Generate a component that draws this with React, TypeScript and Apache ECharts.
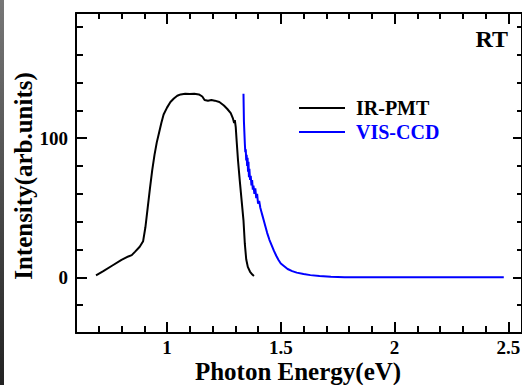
import React, { useEffect, useRef } from "react";
import * as echarts from "echarts";

// Photon energy (eV) / intensity (arb. units) pairs
const irPmtEnergy = [0.688, 0.72, 0.76, 0.8, 0.83, 0.845, 0.86, 0.88, 0.895, 0.905, 0.915, 0.925, 0.935, 0.945, 0.955, 0.965, 0.975, 0.985, 1.0, 1.015, 1.03, 1.045, 1.06, 1.08, 1.1, 1.12, 1.14, 1.155, 1.165, 1.18, 1.195, 1.21, 1.23, 1.25, 1.265, 1.28, 1.29, 1.295, 1.298, 1.302, 1.306, 1.312, 1.32, 1.328, 1.336, 1.342, 1.348, 1.355, 1.365, 1.375, 1.382];
const irPmtIntensity = [1.5, 4.5, 8.5, 12.5, 15, 16, 18.5, 22, 26, 36, 50, 64, 77, 88, 97, 104, 111, 117, 122, 126, 128.5, 130.5, 131.5, 132, 131.8, 132, 131.5, 130, 127.5, 127, 127.5, 127, 126, 123.5, 121, 118, 114, 111, 113, 108, 98, 84, 69, 55, 41, 24, 13, 7.5, 4, 2, 1];

const visCcdEnergy = [1.336, 1.337, 1.338, 1.34, 1.342, 1.344, 1.346, 1.348, 1.35, 1.352, 1.354, 1.356, 1.358, 1.36, 1.362, 1.365, 1.368, 1.371, 1.374, 1.377, 1.38, 1.384, 1.388, 1.392, 1.396, 1.4, 1.405, 1.41, 1.415, 1.42, 1.425, 1.43, 1.44, 1.45, 1.46, 1.47, 1.48, 1.49, 1.5, 1.515, 1.53, 1.55, 1.57, 1.6, 1.63, 1.67, 1.72, 1.78, 1.9, 2.1, 2.3, 2.48];
const visCcdIntensity = [132, 122, 112, 104, 96, 90, 92, 84, 88, 80, 86, 76, 83, 72, 78, 70, 73, 66, 70, 63, 66, 60, 64, 57, 60, 53, 55, 50, 47, 44, 41, 38, 32, 27, 23, 19, 15.5, 12.5, 10, 8, 6, 4.5, 3.4, 2.4, 1.6, 1, 0.4, 0.1, 0, 0, 0, 0];

const xMajor = [1, 1.5, 2, 2.5];
const xMinor = [0.7, 0.8, 0.9, 1.1, 1.2, 1.3, 1.4, 1.6, 1.7, 1.8, 1.9, 2.1, 2.2, 2.3, 2.4];
const yMajor = [0, 100];
const yMinor = [-20, 20, 40, 60, 80, 120, 140, 160, 180];

const X_MIN = 0.6;
const X_MAX = 2.56;
const Y_MIN = -40;
const Y_MAX = 190;

const X_TITLE = "Photon Energy(eV)";
const Y_TITLE = "Intensity(arb.units)";

const FONT = '"Liberation Serif", "Times New Roman", serif';

export default function App() {
  const ref = useRef<HTMLDivElement>(null);

  useEffect(() => {
    if (!ref.current) return;
    const chart = echarts.init(ref.current, null, { renderer: "svg" });

    const gridBox = { left: 76, top: 13, right: 0, bottom: 52 };
    const lineStyle = { color: "#000", width: 2 };

    const xAxisBase = (gridIndex: number, position: string) => ({
      type: "value",
      gridIndex,
      position,
      min: X_MIN,
      max: X_MAX,
      splitLine: { show: false },
    });
    const yAxisBase = (gridIndex: number, position: string) => ({
      type: "value",
      gridIndex,
      position,
      min: Y_MIN,
      max: Y_MAX,
      splitLine: { show: false },
    });

    const toPairs = (xs: number[], ys: number[]) => xs.map((x, i) => [x, ys[i]]);

    chart.setOption({
      animation: false,
      backgroundColor: "#fff",
      grid: [gridBox, gridBox, gridBox, gridBox].map((g) => ({
        ...g,
        containLabel: false,
        outerBoundsMode: "none",
      })),
      xAxis: [
        {
          ...xAxisBase(0, "bottom"),
          axisLine: { show: true, onZero: false, lineStyle },
          axisTick: { show: true, inside: true, length: 11, lineStyle, customValues: xMajor },
          axisLabel: {
            show: true,
            customValues: xMajor,
            margin: 5,
            color: "#000",
            fontFamily: FONT,
            fontWeight: "bold",
            fontSize: 19,
          },
        },
        {
          ...xAxisBase(1, "bottom"),
          axisLine: { show: false, onZero: false },
          axisTick: { show: true, inside: true, length: 7, lineStyle, customValues: xMinor },
          axisLabel: { show: false },
        },
        {
          ...xAxisBase(2, "top"),
          axisLine: { show: true, onZero: false, lineStyle },
          axisTick: { show: true, inside: true, length: 11, lineStyle, customValues: xMajor },
          axisLabel: { show: false },
        },
        {
          ...xAxisBase(3, "top"),
          axisLine: { show: false, onZero: false },
          axisTick: { show: true, inside: true, length: 6, lineStyle, customValues: xMinor },
          axisLabel: { show: false },
        },
      ],
      yAxis: [
        {
          ...yAxisBase(0, "left"),
          axisLine: { show: true, onZero: false, lineStyle },
          axisTick: { show: true, inside: true, length: 11, lineStyle, customValues: yMajor },
          axisLabel: {
            show: true,
            customValues: yMajor,
            margin: 8,
            color: "#000",
            fontFamily: FONT,
            fontWeight: "bold",
            fontSize: 19,
          },
        },
        {
          ...yAxisBase(1, "left"),
          axisLine: { show: false, onZero: false },
          axisTick: { show: true, inside: true, length: 7, lineStyle, customValues: yMinor },
          axisLabel: { show: false },
        },
        {
          ...yAxisBase(2, "right"),
          axisLine: { show: true, onZero: false, lineStyle },
          axisTick: { show: true, inside: true, length: 9, lineStyle, customValues: yMajor },
          axisLabel: { show: false },
        },
        {
          ...yAxisBase(3, "right"),
          axisLine: { show: false, onZero: false },
          axisTick: { show: true, inside: true, length: 5, lineStyle, customValues: yMinor },
          axisLabel: { show: false },
        },
      ],
      legend: {
        orient: "vertical",
        left: 294,
        top: 93,
        icon: "rect",
        itemWidth: 46,
        itemHeight: 2,
        itemGap: 4,
        textStyle: { fontFamily: FONT, fontWeight: "bold", fontSize: 20, padding: [0, 0, 0, 6] },
        data: [
          { name: "IR-PMT", textStyle: { color: "#000" }, itemStyle: { color: "#000" } },
          { name: "VIS-CCD", textStyle: { color: "#0000ff" }, itemStyle: { color: "#0000ff" } },
        ],
      },
      graphic: [
        {
          type: "text",
          x: 298,
          y: 371.5,
          style: {
            text: X_TITLE,
            font: `bold 25px ${FONT}`,
            fill: "#000",
            align: "center",
            verticalAlign: "middle",
          },
        },
        {
          type: "text",
          x: 23,
          y: 176,
          rotation: Math.PI / 2,
          style: {
            text: Y_TITLE,
            font: `bold 25px ${FONT}`,
            fill: "#000",
            align: "center",
            verticalAlign: "middle",
          },
        },
        {
          type: "text",
          right: 14,
          top: 27,
          style: { text: "RT", font: `bold 24px ${FONT}`, fill: "#000" },
        },
        {
          type: "rect",
          left: 0,
          top: 0,
          shape: { width: 4, height: 385 },
          style: {
            fill: new echarts.graphic.LinearGradient(0, 0, 0, 1, [
              { offset: 0, color: "#777" },
              { offset: 1, color: "#222" },
            ]),
          },
        },
      ],
      series: [
        {
          name: "IR-PMT",
          type: "line",
          xAxisIndex: 0,
          yAxisIndex: 0,
          data: toPairs(irPmtEnergy, irPmtIntensity),
          symbol: "none",
          showSymbol: false,
          lineStyle: { color: "#000", width: 2 },
          itemStyle: { color: "#000" },
        },
        {
          name: "VIS-CCD",
          type: "line",
          xAxisIndex: 0,
          yAxisIndex: 0,
          data: toPairs(visCcdEnergy, visCcdIntensity),
          symbol: "none",
          showSymbol: false,
          lineStyle: { color: "#0000ff", width: 2 },
          itemStyle: { color: "#0000ff" },
        },
      ],
    });

    return () => chart.dispose();
  }, []);

  return (
    <div
      ref={ref}
      style={{ position: "fixed", left: 0, top: 0, width: 522, height: 385, background: "#fff" }}
    />
  );
}
